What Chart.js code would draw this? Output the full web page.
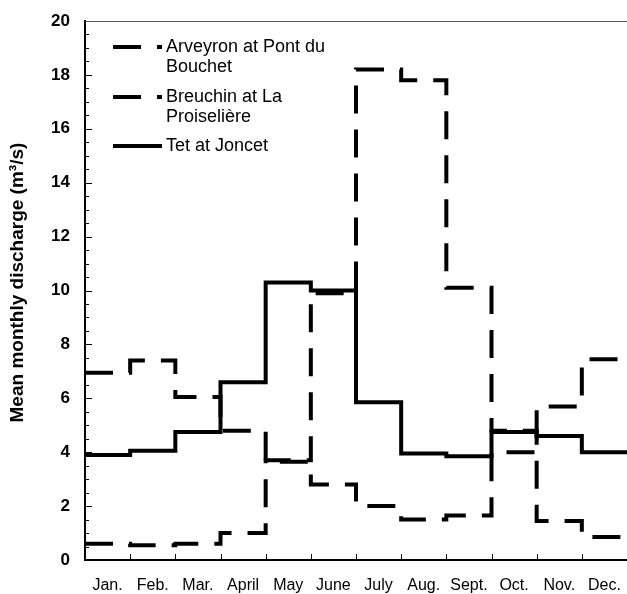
<!DOCTYPE html>
<html>
<head>
<meta charset="utf-8">
<script src="https://cdn.jsdelivr.net/npm/chart.js@4.4.0/dist/chart.umd.min.js"></script>
<style>
html, body { margin: 0; padding: 0; background: #fff; }
</style>
</head>
<body>
<canvas id="myChart" width="627" height="594"></canvas>
<script>
// monthly values
const months = ['Jan.', 'Feb.', 'Mar.', 'April', 'May', 'June', 'July', 'Aug.', 'Sept.', 'Oct.', 'Nov.', 'Dec.'];
const arveyron = [0.6, 0.55, 0.6, 1.0, 3.7, 9.9, 18.2, 17.8, 10.1, 4.8, 1.45, 0.85];
const breuchin = [6.95, 7.4, 6.05, 4.8, 3.65, 2.8, 2.0, 1.5, 1.65, 4.0, 5.7, 7.45];
const tet = [3.9, 4.05, 4.75, 6.6, 10.3, 10.0, 5.85, 3.95, 3.85, 4.75, 4.6, 4.0];
const seriesNames = ['Arveyron at Pont du\nBouchet', 'Breuchin at La\nProiselière', 'Tet at Joncet'];

const FONT = "'Liberation Sans', Arial, sans-serif";
const DASH = [28, 16];

// each month is a flat step from its start to the next month
function steps(vals) {
    const pts = vals.map((v, i) => ({ x: i, y: v }));
    pts.push({ x: vals.length, y: vals[vals.length - 1] });
    return pts;
}

const innerTicks = {
    id: 'innerTicks',
    afterDraw(chart) {
        const ctx = chart.ctx;
        const a = chart.chartArea;
        const xs = chart.scales.x, ys = chart.scales.y;
        ctx.save();
        ctx.strokeStyle = '#000';
        ctx.lineWidth = 1;
        // y minor/major ticks pointing in
        for (let v = 0; v <= 20; v += 0.5) {
            const y = Math.round(ys.getPixelForValue(v)) + 0.5;
            const len = (v % 2 === 0) ? 7 : 4;
            ctx.beginPath();
            ctx.moveTo(a.left, y);
            ctx.lineTo(a.left + len, y);
            ctx.stroke();
        }
        // month boundaries on x axis
        for (let i = 1; i < months.length; i++) {
            const x = Math.round(xs.getPixelForValue(i)) + 0.5;
            ctx.beginPath();
            ctx.moveTo(x, a.bottom);
            ctx.lineTo(x, a.bottom - 6);
            ctx.stroke();
        }
        // top frame line
        ctx.strokeStyle = '#555';
        ctx.beginPath();
        ctx.moveTo(a.left, a.top + 0.5);
        ctx.lineTo(a.right, a.top + 0.5);
        ctx.stroke();

        // legend
        ctx.font = '18px ' + FONT;
        ctx.fillStyle = '#000';
        ctx.strokeStyle = '#000';
        ctx.textBaseline = 'middle';
        const rows = [47, 97, 146];
        chart.data.datasets.forEach((ds, k) => {
            const y = rows[k];
            ctx.lineWidth = 4;
            ctx.setLineDash(ds.borderDash || []);
            ctx.beginPath();
            ctx.moveTo(113, y);
            ctx.lineTo(162, y);
            ctx.stroke();
            ctx.setLineDash([]);
            seriesNames[k].split('\n').forEach((t, j) => {
                ctx.fillText(t, 166, y + j * 20);
            });
        });
        ctx.restore();
    }
};

const config = {
    type: 'line',
    data: {
        datasets: [{
            label: 'Arveyron at Pont du Bouchet',
            data: steps(arveyron),
            borderColor: '#000',
            borderWidth: 4,
            borderDash: DASH,
            stepped: 'before',
            pointRadius: 0,
            fill: false
        }, {
            label: 'Breuchin at La Proiselière',
            data: steps(breuchin),
            borderColor: '#000',
            borderWidth: 4,
            borderDash: DASH,
            stepped: 'before',
            pointRadius: 0,
            fill: false
        }, {
            label: 'Tet at Joncet',
            data: steps(tet),
            borderColor: '#000',
            borderWidth: 4,
            stepped: 'before',
            pointRadius: 0,
            fill: false
        }]
    },
    options: {
        responsive: false,
        animation: false,
        layout: { padding: { top: 21, left: 0, right: 0, bottom: 0 } },
        plugins: {
            legend: { display: false },
            tooltip: { enabled: false }
        },
        scales: {
            x: {
                type: 'linear',
                min: 0,
                max: 12,
                afterBuildTicks: (scale) => {
                    scale.ticks = months.map((m, i) => ({ value: i + 0.5 }));
                },
                afterFit: (scale) => {
                    scale.height = 34;
                    scale.paddingLeft = 0;
                    scale.paddingRight = 0;
                },
                ticks: {
                    autoSkip: false,
                    maxRotation: 0,
                    padding: 16,
                    color: '#000',
                    font: { family: FONT, size: 16 },
                    callback: (v) => months[Math.floor(v)]
                },
                grid: { display: false, drawTicks: false },
                border: { display: true, color: '#000', width: 2 }
            },
            y: {
                min: 0,
                max: 20,
                afterFit: (scale) => {
                    scale.width = 85;
                    scale.paddingTop = 0;
                    scale.paddingBottom = 0;
                },
                ticks: {
                    stepSize: 2,
                    padding: 15,
                    color: '#000',
                    font: { family: FONT, size: 17, weight: 'bold' }
                },
                grid: { display: false, drawTicks: false },
                border: { display: true, color: '#000', width: 2 },
                title: {
                    display: true,
                    text: '   Mean monthly discharge (m³/s)',
                    color: '#000',
                    padding: { top: 6, bottom: 0 },
                    font: { family: FONT, size: 19, weight: 'bold' }
                }
            }
        }
    },
    plugins: [innerTicks]
};

var ctx = document.getElementById('myChart').getContext('2d');
var chart = new Chart(ctx, config);
</script>
</body>
</html>
